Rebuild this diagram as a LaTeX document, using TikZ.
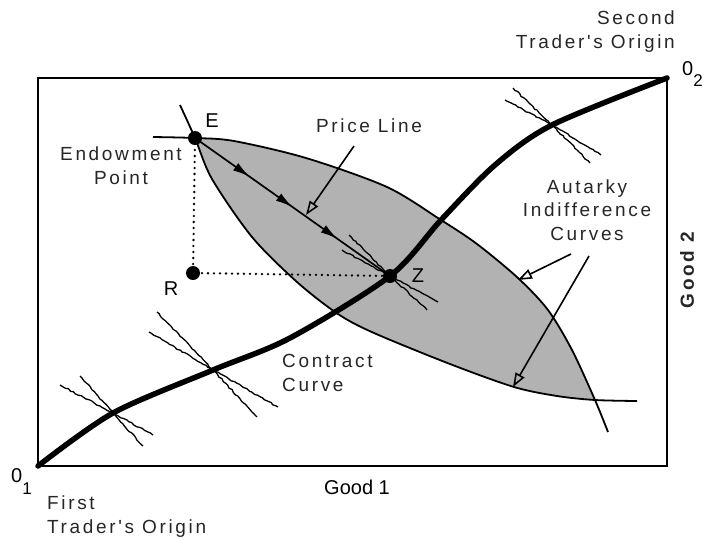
\documentclass[tikz,border=0pt]{standalone}
\usepackage{fontspec}
\setmainfont{Liberation Sans}
\newfontfamily\spacedfont[LetterSpace=14]{Liberation Sans}
\usetikzlibrary{arrows.meta,decorations.pathmorphing,decorations.markings}

\begin{document}
\begin{tikzpicture}[x=1pt, y=-1pt, >=Latex,
    lbl/.style={font=\spacedfont\fontsize{19}{23.5}\selectfont, inner sep=0pt, text=black!85},
    axislbl/.style={font=\fontsize{20}{24}\selectfont, inner sep=0pt},
    dot/.style={circle, fill, inner sep=0pt, minimum size=14pt},
    icurve/.style={line width=1.8pt},
    wiggly/.style={line width=1.3pt, decorate, decoration={random steps, segment length=3pt, amplitude=0.7pt}},
    guide/.style={line width=2.6pt, line cap=round, dash pattern=on 0pt off 6pt},
    pointer/.style={line width=1.6pt, -{Triangle[open, length=14pt, width=10pt]}},
    flow/.style={postaction=decorate, decoration={markings,
        mark=at position 0.28 with {\arrow{Latex[length=17pt,width=9pt]}},
        mark=at position 0.50 with {\arrow{Latex[length=17pt,width=9pt]}},
        mark=at position 0.73 with {\arrow{Latex[length=17pt,width=9pt]}}}}
  ]
  \pgfmathsetseed{7}
  \useasboundingbox (0,0) rectangle (706,539);
  \coordinate (O1) at (38,466);
  \coordinate (O2) at (667,78);
  \coordinate (E) at (195,138);
  \coordinate (R) at (193,273);
  \coordinate (Z) at (390,276);
  \coordinate (X) at (595,400);
  \coordinate (C1) at (113,413);
  \coordinate (C2) at (213,370);
  \coordinate (C3) at (552,125);

  % lens between the two autarky curves
  \fill[black!30] plot[smooth] coordinates {(E) (234,141) (306,158) (387,187) (441,220) (477,244) (518,278) (548,310) (572,350) (X)}
    -- plot[smooth] coordinates {(580,398) (557,396) (514,387) (450,364) (374,333) (338,314) (297,282) (252,237) (212,179) (E)} -- cycle;
  \draw[icurve] plot[smooth] coordinates {(180,105) (E) (212,179) (252,237) (297,282) (338,314) (374,333) (450,364) (514,387) (557,396) (X) (637,401)};
  \draw[icurve] plot[smooth] coordinates {(153,137) (E) (234,141) (306,158) (387,187) (441,220) (477,244) (518,278) (548,310) (572,350) (X) (608,432)};

  \draw[line width=2.5pt] (O1) rectangle (O2);
  \draw[line width=5.5pt, line cap=round] plot[smooth] coordinates {(O1) (C1) (C2) (290,338) (Z) (441,220) (495,165) (C3) (O2)};

  % tangent indifference curves along the contract curve
  \draw[wiggly] (80,376) -- (C1) -- (153,435);
  \draw[wiggly] (60,385) -- (C1) -- (143,446);
  \draw[wiggly] (157,312) -- (C2) -- (278,407);
  \draw[wiggly] (149,332) -- (C2) -- (257,417);
  \draw[wiggly] (513,88) -- (C3) -- (601,155);
  \draw[wiggly] (505,100) -- (C3) -- (590,163);
  \draw[wiggly] (349,235) -- (Z) -- (438,302);
  \draw[wiggly] (342,250) -- (Z) -- (427,310);

  \draw[line width=1.7pt, flow] (E) -- (Z);
  \draw[guide] (E) -- (R) -- (Z);
  \node[dot] (Edot) at (E) {};
  \node[dot] (Rdot) at (R) {};
  \node[dot] (Zdot) at (Z) {};

  \node[axislbl, anchor=base] (Elbl) at (212,127) {E};
  \node[axislbl, anchor=base] (Zlbl) at (418,282) {Z};
  \node[axislbl, anchor=base] (Rlbl) at (171,295) {R};
  \node[lbl, align=center, anchor=base] (endow) at (121,184) {Endowment\\Point};
  \node[lbl, anchor=base] (price) at (369,132) {Price Line};
  \node[lbl, align=center, anchor=base] (autarky) at (587,240) {Autarky\\Indifference\\Curves};
  \node[lbl, align=left, anchor=base west] (contract) at (282,391) {Contract\\Curve};
  \node[axislbl, anchor=base] (good1) at (357,494) {Good 1};
  \node[lbl, font=\spacedfont\bfseries\fontsize{19}{24}\selectfont, rotate=90] (good2) at (687,270) {Good 2};
  \node[lbl, align=left, anchor=base west] (first) at (47,533) {First\\Trader's Origin};
  \node[lbl, align=right, anchor=base east] (second) at (675,48) {Second\\Trader's Origin};
  \node[axislbl, anchor=base west] (orig1) at (11,482) {0\raisebox{-12pt}{\fontsize{17}{17}\selectfont 1}};
  \node[axislbl, anchor=base west] (orig2) at (682,75) {0\raisebox{-11pt}{\fontsize{17}{17}\selectfont 2}};

  \coordinate (pltail) at (354,146);
  \coordinate (plhead) at (306,215);
  \coordinate (autail1) at (571,254);
  \coordinate (auhead1) at (518,280);
  \coordinate (autail2) at (589,256);
  \coordinate (auhead2) at (513,387);
  \draw[pointer] (pltail) -- (plhead);
  \draw[pointer] (autail1) -- (auhead1);
  \draw[pointer] (autail2) -- (auhead2);
\end{tikzpicture}
\end{document}
